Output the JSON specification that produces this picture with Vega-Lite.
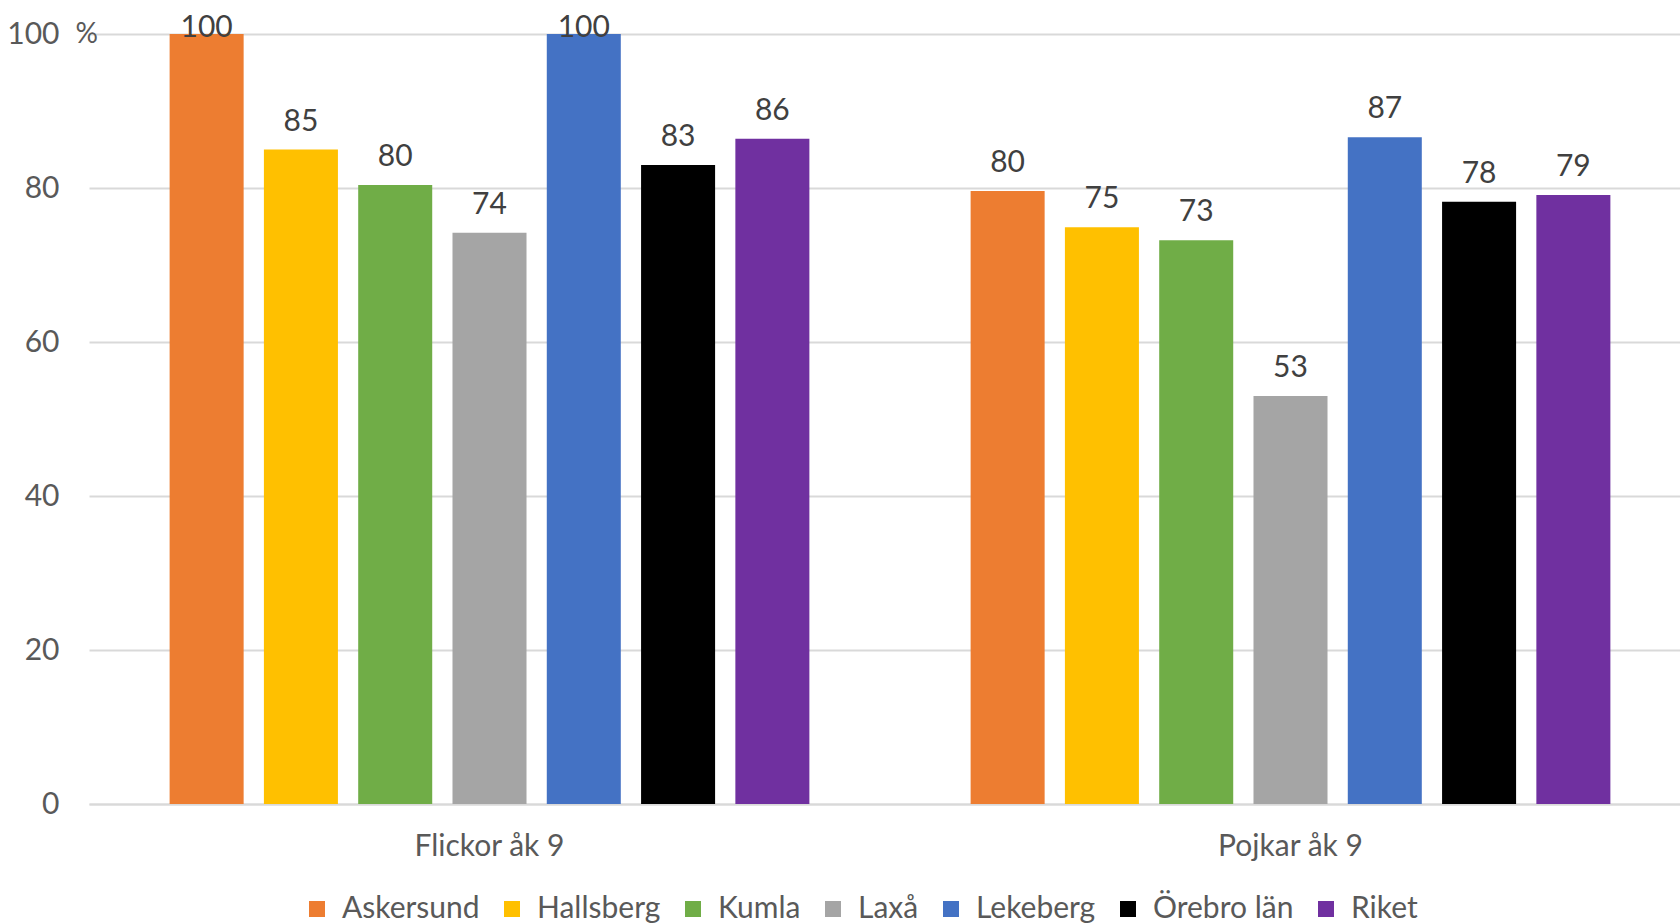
{
  "$schema": "https://vega.github.io/schema/vega-lite/v6.json",
  "autosize": {"type": "none"},
  "padding": {"left": 89, "top": 34, "right": 0, "bottom": 120},
  "width": 1602,
  "height": 770,
  "background": "white",
  "config": {
    "font": "Lato",
    "view": {"stroke": null}
  },
  "data": {
    "values": [
      {"grupp": "Flickor åk 9", "kommun": "Askersund", "andel": 100},
      {"grupp": "Flickor åk 9", "kommun": "Hallsberg", "andel": 85.0},
      {"grupp": "Flickor åk 9", "kommun": "Kumla", "andel": 80.4},
      {"grupp": "Flickor åk 9", "kommun": "Laxå", "andel": 74.2},
      {"grupp": "Flickor åk 9", "kommun": "Lekeberg", "andel": 100},
      {"grupp": "Flickor åk 9", "kommun": "Örebro län", "andel": 83.0},
      {"grupp": "Flickor åk 9", "kommun": "Riket", "andel": 86.4},
      {"grupp": "Pojkar åk 9", "kommun": "Askersund", "andel": 79.6},
      {"grupp": "Pojkar åk 9", "kommun": "Hallsberg", "andel": 74.9},
      {"grupp": "Pojkar åk 9", "kommun": "Kumla", "andel": 73.2},
      {"grupp": "Pojkar åk 9", "kommun": "Laxå", "andel": 53.0},
      {"grupp": "Pojkar åk 9", "kommun": "Lekeberg", "andel": 86.6},
      {"grupp": "Pojkar åk 9", "kommun": "Örebro län", "andel": 78.2},
      {"grupp": "Pojkar åk 9", "kommun": "Riket", "andel": 79.1}
    ]
  },
  "encoding": {
    "x": {
      "field": "grupp", "type": "nominal",
      "scale": {"paddingInner": 0, "paddingOuter": 0},
      "axis": {
        "title": null, "labelAngle": 0, "labelFontSize": 30, "labelColor": "#595959",
        "labelPadding": 27, "ticks": false, "domain": true, "domainColor": "#D9D9D9", "domainWidth": 2
      }
    },
    "xOffset": {
      "field": "kommun", "type": "nominal",
      "sort": ["Askersund", "Hallsberg", "Kumla", "Laxå", "Lekeberg", "Örebro län", "Riket"],
      "scale": {"paddingInner": 0.215, "paddingOuter": 0.855}
    },
    "y": {
      "field": "andel", "type": "quantitative",
      "scale": {"domain": [0, 100]},
      "axis": {
        "values": [0, 20, 40, 60, 80, 100],
        "title": "%", "titleAngle": 0, "titleX": -14, "titleY": 0, "titleAlign": "left",
        "titleBaseline": "middle", "titleFontSize": 28, "titleFontWeight": "normal", "titleColor": "#595959",
        "labelFontSize": 30, "labelColor": "#595959", "labelPadding": 30,
        "ticks": false, "domain": false,
        "grid": true, "gridColor": "#D9D9D9", "gridWidth": 2
      }
    }
  },
  "layer": [
    {
      "mark": {"type": "bar"},
      "encoding": {
        "color": {
          "field": "kommun", "type": "nominal",
          "sort": ["Askersund", "Hallsberg", "Kumla", "Laxå", "Lekeberg", "Örebro län", "Riket"],
          "scale": {
            "domain": ["Askersund", "Hallsberg", "Kumla", "Laxå", "Lekeberg", "Örebro län", "Riket"],
            "range": ["#ED7D31", "#FFC000", "#70AD47", "#A5A5A5", "#4472C4", "#000000", "#7030A0"]
          },
          "legend": {
            "title": null, "orient": "none", "direction": "horizontal",
            "legendX": 213, "legendY": 860, "padding": 0,
            "symbolType": "square", "symbolSize": 256, "symbolStrokeWidth": 0,
            "labelFontSize": 30, "labelColor": "#595959", "labelOffset": 10,
            "columnPadding": 17
          }
        }
      }
    },
    {
      "transform": [{"filter": "datum.andel < 99"}],
      "mark": {"type": "text", "dy": -28, "baseline": "middle", "fontSize": 30, "color": "#404040"},
      "encoding": {"text": {"field": "andel", "type": "quantitative", "format": ".0f"}}
    },
    {
      "transform": [{"filter": "datum.andel >= 99"}],
      "mark": {"type": "text", "dy": -6, "baseline": "middle", "fontSize": 30, "color": "#404040"},
      "encoding": {"text": {"field": "andel", "type": "quantitative", "format": ".0f"}}
    }
  ]
}
